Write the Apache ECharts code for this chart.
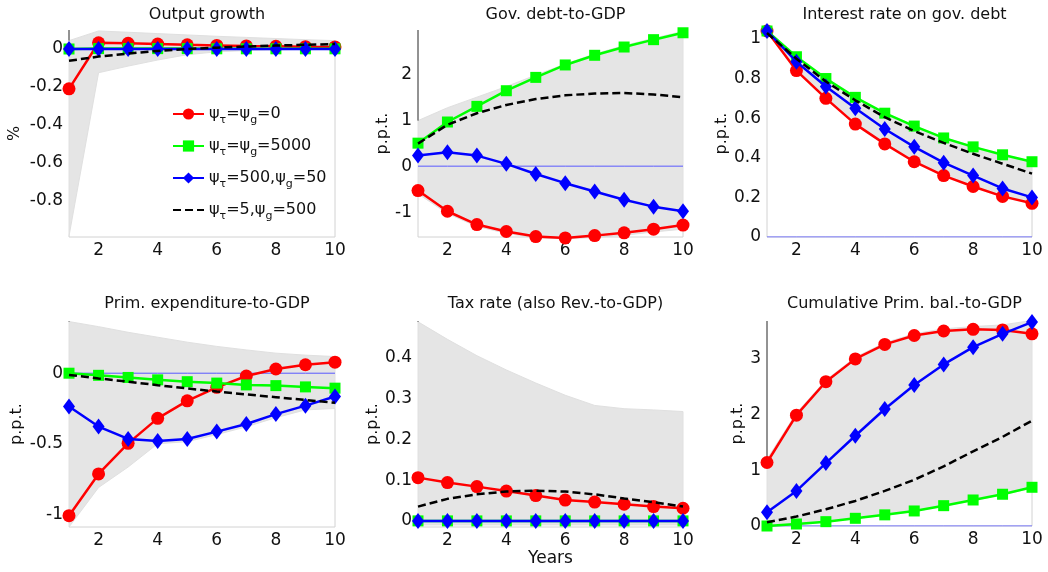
<!DOCTYPE html>
<html><head><meta charset="utf-8">
<script src="https://cdn.jsdelivr.net/npm/echarts@6/dist/echarts.min.js"></script>
<style>html,body{margin:0;padding:0;background:#fff}#c{width:1048px;height:572px}</style>
</head><body><div id="c"></div>
<script>
// ---------- data ----------
const years = [1, 2, 3, 4, 5, 6, 7, 8, 9, 10];
const xTicks = [2, 4, 6, 8, 10];
const titles = ['Output growth', 'Gov. debt-to-GDP', 'Interest rate on gov. debt',
  'Prim. expenditure-to-GDP', 'Tax rate (also Rev.-to-GDP)', 'Cumulative Prim. bal.-to-GDP'];
const yNames = ['%', 'p.p.t.', 'p.p.t.', 'p.p.t.', 'p.p.t.', 'p.p.t.'];
const seriesNames = ['ψτ=ψg=0', 'ψτ=ψg=5000', 'ψτ=500,ψg=50', 'ψτ=5,ψg=500'];
const legendLabels = ['ψ{s|τ}=ψ{s|g}=0', 'ψ{s|τ}=ψ{s|g}=5000', 'ψ{s|τ}=500,ψ{s|g}=50', 'ψ{s|τ}=5,ψ{s|g}=500'];
const yTicks = [[-0.8, -0.6, -0.4, -0.2, 0], [-1, 0, 1, 2], [0, 0.2, 0.4, 0.6, 0.8, 1],
  [-1, -0.5, 0], [0, 0.1, 0.2, 0.3, 0.4], [0, 1, 2, 3]];
const yMin = [-0.99, -1.54, 0, -1.09, -0.015, 0];
const yMax = [0.1, 2.96, 1.045, 0.37, 0.49, 3.68];

// Output growth
const ogRed   = [-0.21, 0.033, 0.03, 0.026, 0.022, 0.019, 0.016, 0.014, 0.012, 0.011];
const ogGreen = [0, 0.002, 0.002, 0.002, 0.002, 0.001, 0.001, 0.001, 0.001, 0.001];
const ogBlue  = [0, 0, 0, 0, 0, 0, 0, 0, 0, 0];
const ogBlack = [-0.062, -0.04, -0.024, -0.01, 0, 0.007, 0.013, 0.018, 0.022, 0.026];
const ogLo    = [-0.985, -0.125, -0.09, -0.058, -0.03, -0.015, -0.008, -0.004, -0.002, -0.001];
const ogHi    = [0.044, 0.095, 0.088, 0.081, 0.074, 0.067, 0.061, 0.055, 0.049, 0.044];
// Gov. debt-to-GDP
const dbRed   = [-0.53, -0.98, -1.27, -1.42, -1.53, -1.56, -1.51, -1.45, -1.37, -1.28];
const dbGreen = [0.5, 0.96, 1.3, 1.64, 1.93, 2.2, 2.41, 2.59, 2.75, 2.9];
const dbBlue  = [0.23, 0.3, 0.23, 0.05, -0.17, -0.37, -0.55, -0.73, -0.88, -0.98];
const dbBlack = [0.49, 0.9, 1.15, 1.33, 1.46, 1.54, 1.58, 1.59, 1.56, 1.5];
const dbLo    = [-0.6, -1.03, -1.31, -1.46, -1.56, -1.58, -1.55, -1.5, -1.43, -1.37];
const dbHi    = [0.99, 1.27, 1.5, 1.73, 1.98, 2.22, 2.44, 2.62, 2.78, 2.93];
// Interest rate on gov. debt
const irRed   = [1.04, 0.84, 0.70, 0.57, 0.47, 0.38, 0.31, 0.255, 0.205, 0.17];
const irGreen = [1.04, 0.91, 0.80, 0.705, 0.625, 0.56, 0.50, 0.455, 0.415, 0.38];
const irBlue  = [1.04, 0.885, 0.76, 0.65, 0.545, 0.455, 0.375, 0.31, 0.245, 0.2];
const irBlack = [1.03, 0.9, 0.785, 0.69, 0.605, 0.535, 0.475, 0.42, 0.37, 0.32];
const irLo    = [1.04, 0.84, 0.70, 0.57, 0.47, 0.38, 0.31, 0.255, 0.205, 0.17];
const irHi    = [1.04, 0.912, 0.802, 0.707, 0.627, 0.562, 0.502, 0.457, 0.417, 0.382];
// Prim. expenditure-to-GDP
const peRed   = [-1.01, -0.714, -0.497, -0.32, -0.196, -0.1, -0.02, 0.03, 0.06, 0.078];
const peGreen = [0, -0.015, -0.03, -0.047, -0.06, -0.07, -0.083, -0.088, -0.097, -0.106];
const peBlue  = [-0.236, -0.378, -0.466, -0.48, -0.466, -0.414, -0.36, -0.29, -0.23, -0.165];
const peBlack = [-0.012, -0.037, -0.06, -0.085, -0.108, -0.13, -0.15, -0.17, -0.19, -0.21];
const peLo    = [-1.09, -0.81, -0.665, -0.5, -0.485, -0.435, -0.38, -0.315, -0.26, -0.25];
const peHi    = [0.366, 0.33, 0.29, 0.255, 0.22, 0.19, 0.165, 0.142, 0.128, 0.118];
// Tax rate
const txRed   = [0.106, 0.094, 0.084, 0.073, 0.062, 0.051, 0.046, 0.041, 0.035, 0.031];
const txGreen = [0, 0, 0, 0, 0, 0, 0, 0, 0, 0];
const txBlue  = [0, 0, 0, 0, 0, 0, 0, 0, 0, 0];
const txBlack = [0.035, 0.054, 0.065, 0.072, 0.074, 0.072, 0.065, 0.055, 0.046, 0.035];
const txLo    = [-0.01, -0.01, -0.01, -0.01, -0.01, -0.01, -0.01, -0.01, -0.01, -0.01];
const txHi    = [0.488, 0.445, 0.405, 0.37, 0.338, 0.308, 0.283, 0.275, 0.272, 0.268];
// Cumulative Prim. bal.-to-GDP
const cbRed   = [1.14, 1.99, 2.59, 3.0, 3.26, 3.42, 3.5, 3.53, 3.52, 3.45];
const cbGreen = [0, 0.036, 0.078, 0.138, 0.2, 0.27, 0.365, 0.467, 0.57, 0.695];
const cbBlue  = [0.245, 0.63, 1.13, 1.62, 2.1, 2.53, 2.9, 3.21, 3.45, 3.66];
const cbBlack = [0.066, 0.17, 0.3, 0.45, 0.63, 0.83, 1.07, 1.34, 1.6, 1.89];
const cbLo    = [0, 0.03, 0.07, 0.13, 0.19, 0.26, 0.355, 0.455, 0.56, 0.68];
const cbHi    = [1.2, 2.03, 2.62, 3.03, 3.29, 3.45, 3.54, 3.58, 3.61, 3.69];

const panels = [
  [ogRed, ogGreen, ogBlue, ogBlack, ogLo, ogHi],
  [dbRed, dbGreen, dbBlue, dbBlack, dbLo, dbHi],
  [irRed, irGreen, irBlue, irBlack, irLo, irHi],
  [peRed, peGreen, peBlue, peBlack, peLo, peHi],
  [txRed, txGreen, txBlue, txBlack, txLo, txHi],
  [cbRed, cbGreen, cbBlue, cbBlack, cbLo, cbHi]
];

// ---------- layout / style ----------
const FONT = 'DejaVu Sans';
const grids = [
  {left: 69, top: 30, width: 266, height: 207},
  {left: 418, top: 30, width: 265, height: 207},
  {left: 767, top: 30, width: 265, height: 207},
  {left: 69, top: 321, width: 266, height: 206},
  {left: 418, top: 321, width: 265, height: 206},
  {left: 767, top: 321, width: 265, height: 205}
];
const nameGaps = [46, 27, 31, 44, 32, 17];
const titleTops = [2, 2, 2, 291, 291, 291];
const styles = [
  {color: '#ff0000', symbol: 'circle', symbolSize: 13, type: 'solid'},
  {color: '#00ff00', symbol: 'rect', symbolSize: 11, type: 'solid'},
  {color: '#0000ff', symbol: 'diamond', symbolSize: [12, 16], type: 'solid'},
  {color: '#000000', symbol: 'none', symbolSize: 0, type: [8, 4]}
];

const pairs = arr => years.map((x, i) => [x, arr[i]]);

const option = {
  animation: false,
  backgroundColor: '#ffffff',
  title: titles.map((t, p) => ({
    text: t, left: grids[p].left + grids[p].width / 2, top: titleTops[p], textAlign: 'center',
    textStyle: {fontFamily: FONT, fontSize: 16, fontWeight: 'normal', color: '#111'}
  })),
  grid: grids.map(g => Object.assign({containLabel: false}, g)),
  legend: {
    data: seriesNames.map((n, k) => k === 3
      ? {name: n, itemStyle: {color: 'rgba(0,0,0,0)', borderColor: 'rgba(0,0,0,0)', borderWidth: 0}}
      : {name: n}),
    orient: 'vertical', left: 167, top: 97, itemGap: 8,
    itemWidth: 31, itemHeight: 14,
    formatter: name => legendLabels[seriesNames.indexOf(name)],
    textStyle: {fontFamily: FONT, fontSize: 16, color: '#111', lineHeight: 24,
      rich: {s: {fontFamily: FONT, fontSize: 11, color: '#111', verticalAlign: 'bottom', lineHeight: 24}}}
  },
  xAxis: grids.map((g, p) => ({
    type: 'value', gridIndex: p, min: 1, max: 10,
    axisLine: {show: false}, axisTick: {show: false}, splitLine: {show: false},
    axisLabel: {customValues: xTicks, fontFamily: FONT, fontSize: 17, color: '#111', margin: 5},
    name: p === 4 ? 'Years' : '', nameLocation: 'middle', nameGap: 22,
    nameTextStyle: {fontFamily: FONT, fontSize: 17, color: '#111'}
  })),
  yAxis: grids.map((g, p) => ({
    type: 'value', gridIndex: p, min: yMin[p], max: yMax[p],
    axisLine: {show: false}, axisTick: {show: false}, splitLine: {show: false},
    axisLabel: {customValues: yTicks[p], fontFamily: FONT, fontSize: 17, color: '#111', margin: 6},
    name: yNames[p], nameLocation: 'middle', nameGap: nameGaps[p],
    nameTextStyle: {fontFamily: FONT, fontSize: 16, color: '#111'}
  })),
  series: []
};

panels.forEach((d, p) => {
  const lo = d[4], hi = d[5];
  // band (gray area between bounds), white area below it, frame edges
  option.series.push({
    type: 'custom', xAxisIndex: p, yAxisIndex: p, z: 1, silent: true, clip: false,
    data: years.map((x, i) => [x, lo[i], hi[i]]),
    renderItem: function (params, api) {
      if (params.dataIndex !== 0) return null;
      const loPts = years.map((x, i) => api.coord([x, lo[i]]));
      const hiPts = years.map((x, i) => api.coord([x, hi[i]]));
      const bl = api.coord([years[0], yMin[p]]);
      const br = api.coord([years[years.length - 1], yMin[p]]);
      const tl = api.coord([years[0], yMax[p]]);
      return {
        type: 'group',
        children: [
          {type: 'polygon', shape: {points: hiPts.concat(loPts.slice().reverse())},
            style: {fill: '#e5e5e5', stroke: '#e0e0e0', lineWidth: 1}},
          {type: 'polyline', shape: {points: [loPts[0], bl, br, loPts[loPts.length - 1]]},
            style: {fill: null, stroke: '#d2d2d2', lineWidth: 1}},
          {type: 'line', shape: {x1: tl[0], y1: tl[1], x2: hiPts[0][0], y2: hiPts[0][1]},
            style: {stroke: '#262626', lineWidth: 1}}
        ]
      };
    }
  });
  // zero line
  option.series.push({
    type: 'line', xAxisIndex: p, yAxisIndex: p, z: 2, silent: true, symbol: 'none',
    data: pairs(years.map(() => 0)), lineStyle: {color: '#5a5aff', width: 1}
  });
  // the four experiments
  for (let k = 0; k < 4; k++) {
    const s = styles[k];
    option.series.push({
      name: seriesNames[k], type: 'line', xAxisIndex: p, yAxisIndex: p, z: 3 + k,
      clip: false, data: pairs(d[k]),
      symbol: s.symbol, symbolSize: s.symbolSize, showSymbol: s.symbol !== 'none',
      lineStyle: {color: s.color, width: 2.5, type: s.type},
      itemStyle: {color: s.color, borderColor: s.color, borderWidth: 0},
      emphasis: {disabled: true}
    });
  }
});

const chart = echarts.init(document.getElementById('c'), null, {renderer: 'canvas'});
chart.setOption(option);
</script>
</body></html>
